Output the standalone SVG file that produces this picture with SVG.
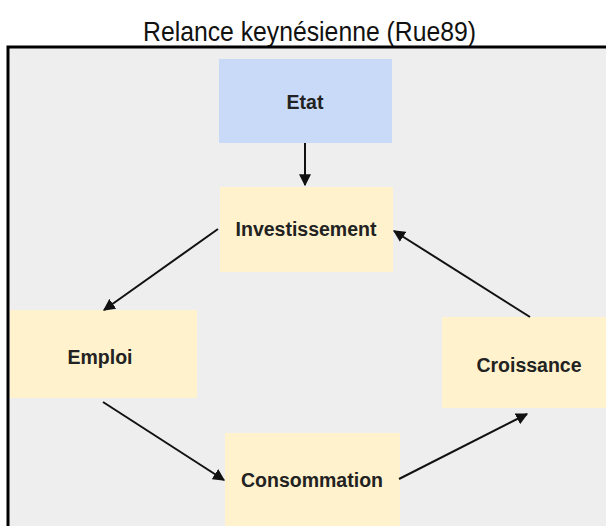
<svg xmlns="http://www.w3.org/2000/svg" width="606" height="526" viewBox="0 0 606 526">
<style>
.t{font-family:"Liberation Sans",Arial,sans-serif;font-weight:bold;font-size:19.5px;fill:#222;text-anchor:middle}
.y{fill:#fff2cc}
.b{fill:#c9daf8}
.c{stroke:#111;stroke-width:2;fill:none;marker-end:url(#ah)}
</style>
<defs>
<marker id="ah" viewBox="0 0 10 10" refX="9" refY="5" markerWidth="6" markerHeight="6" orient="auto" markerUnits="strokeWidth">
<path d="M0,0 L10,5 L0,10 z" fill="#111"/>
</marker>
</defs>
<rect width="606" height="526" fill="#fff"/>
<text x="309.5" y="41" font-family="'Liberation Sans',Arial,sans-serif" font-size="28" fill="#111" text-anchor="middle" textLength="333" lengthAdjust="spacingAndGlyphs">Relance keynésienne (Rue89)</text>
<rect x="8" y="46" width="600" height="482" fill="#eeeeee"/>
<path d="M8,526 V47 H606" stroke="#000" stroke-width="3" fill="none"/>
<g id="etat"><rect class="b" x="219" y="59" width="173" height="84"/><text class="t" x="305" y="109">Etat</text></g>
<g id="investissement"><rect class="y" x="220" y="187" width="173" height="85"/><text class="t" x="306" y="236">Investissement</text></g>
<g id="emploi"><rect class="y" x="10" y="310" width="187" height="88"/><text class="t" x="100" y="364">Emploi</text></g>
<g id="croissance"><rect class="y" x="442" y="317" width="164" height="91"/><text class="t" x="529" y="372">Croissance</text></g>
<g id="consommation"><rect class="y" x="225" y="433" width="175" height="93"/><text class="t" x="312" y="487">Consommation</text></g>
<g id="connectors">
<path class="c" d="M305,143 V185"/>
<path class="c" d="M218,229 L104,310"/>
<path class="c" d="M103,402 L224,480"/>
<path class="c" d="M399,479 L527,414"/>
<path class="c" d="M530,317 L394,231"/>
</g>
</svg>
